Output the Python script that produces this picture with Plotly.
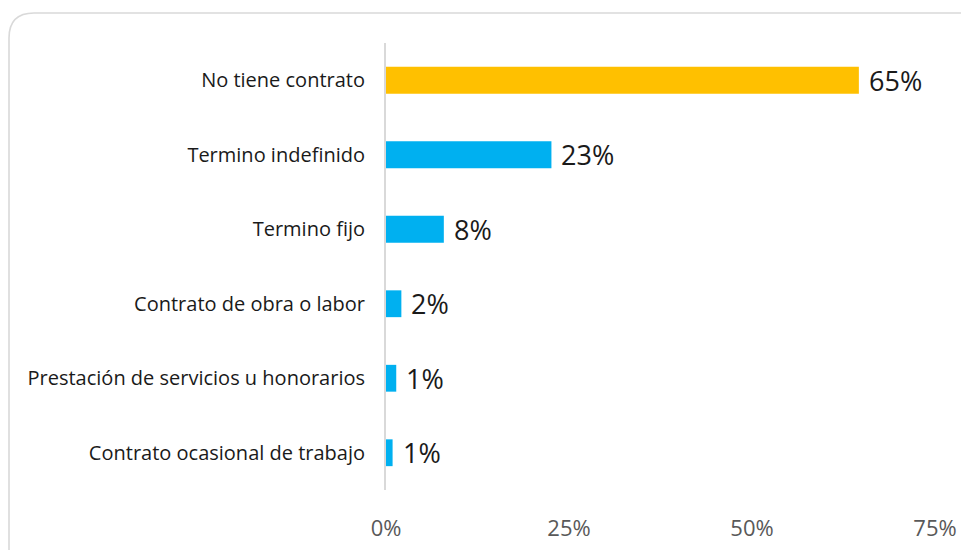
import plotly.graph_objects as go

categories = ["No tiene contrato", "Termino indefinido", "Termino fijo",
              "Contrato de obra o labor", "Prestación de servicios u honorarios",
              "Contrato ocasional de trabajo"]
values = [0.646, 0.226, 0.079, 0.021, 0.014, 0.009]
bar_colors = ["#FFC000", "#00B0F0", "#00B0F0", "#00B0F0", "#00B0F0", "#00B0F0"]
tick_vals = [0, 0.25, 0.5, 0.75]
tick_text = ["0%", "25%", "50%", "75%"]

OFF = 8  # page body margin
W, H = 969, 550
L = 386 - OFF
R = W - (935 - OFF)
T = 43 - OFF
B = H - (490 - OFF)
pw, ph = W - L - R, H - T - B

fig = go.Figure()
fig.add_trace(go.Bar(
    y=categories, x=values, orientation="h",
    marker=dict(color=bar_colors, line=dict(width=0)),
    width=0.36, hoverinfo="skip",
))

for c, v in zip(categories, values):
    fig.add_annotation(x=v, y=c, xref="x", yref="y", text=f"{v:.0%}",
                       showarrow=False, xanchor="left", yanchor="middle",
                       xshift=8, font=dict(family="Open Sans", size=27, color="#1a1a1a"))

# rounded border box (screen px -> paper)
def px(x):
    return (x - OFF - L) / pw
def py(y):
    return (H - B - (y - OFF)) / ph
x0, x1, y0, y1, r, rr = 9, 985, 13, 600, 25, 14
path = (f"M {px(x0+r)},{py(y0)} L {px(x1-rr)},{py(y0)} "
        f"Q {px(x1)},{py(y0)} {px(x1)},{py(y0+rr)} L {px(x1)},{py(y1)} "
        f"L {px(x0)},{py(y1)} L {px(x0)},{py(y0+r)} "
        f"Q {px(x0)},{py(y0)} {px(x0+r)},{py(y0)} Z")
fig.add_shape(type="path", path=path, xref="paper", yref="paper",
              line=dict(color="#d9d9d9", width=1.6), fillcolor="rgba(0,0,0,0)", layer="below")

fig.update_layout(
    width=W, height=H,
    margin=dict(l=L, r=R, t=T, b=B),
    paper_bgcolor="white", plot_bgcolor="white",
    showlegend=False,
    font=dict(family="Open Sans"),
    xaxis=dict(range=[0, 0.75], tickvals=tick_vals, ticktext=tick_text,
               showgrid=False, zeroline=False, showline=False,
               ticks="outside", ticklen=19, tickcolor="rgba(0,0,0,0)",
               tickfont=dict(size=22, color="#595959")),
    yaxis=dict(categoryorder="array", categoryarray=categories, autorange="reversed",
               showgrid=False, zeroline=False, showline=True, linecolor="#d9d9d9", linewidth=2,
               ticks="", ticklabelstandoff=15,
               tickfont=dict(size=20, color="#1a1a1a")),
)

fig.write_html("out.html")
